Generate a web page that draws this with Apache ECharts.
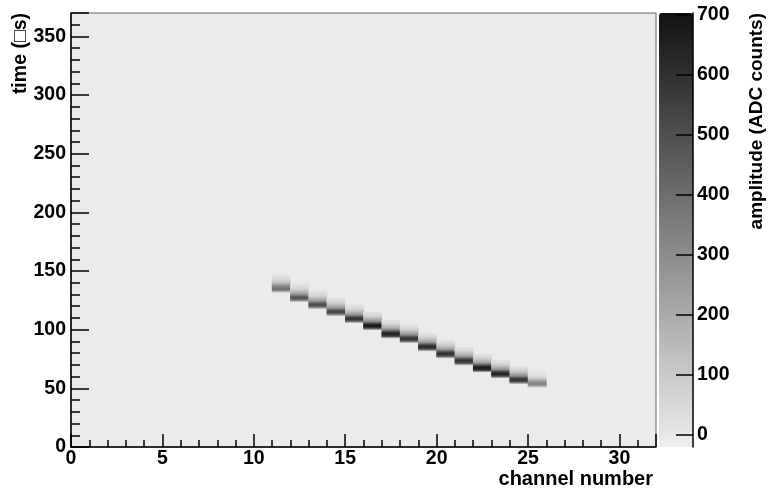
<!DOCTYPE html>
<html>
<head>
<meta charset="utf-8">
<script src="https://cdn.jsdelivr.net/npm/echarts@6/dist/echarts.min.js"></script>
<style>
html,body{margin:0;padding:0;background:#fff;}
#chart{width:769px;height:492px;}
</style>
</head>
<body>
<div id="chart"></div>
<script>
// ---- data ----
const channelCount = 32;          // channel bins 0..31
const timeBins = 370;             // time bins (1 µs each), 0..369
const xTickLabels = [0, 5, 10, 15, 20, 25, 30];
const yTickLabels = [0, 50, 100, 150, 200, 250, 300, 350];
const zTickLabels = [0, 100, 200, 300, 400, 500, 600, 700];
const zMin = -20, zMax = 703;

// track: channel, first time bin of pulse, amplitudes going up in time
const trackChannels = [11, 12, 13, 14, 15, 16, 17, 18, 19, 20, 21, 22, 23, 24, 25];
const trackStart    = [132, 124, 118, 112, 106, 100, 93, 89, 82, 76, 70, 64, 59, 54, 51];
const trackAmps = [
  [140, 300, 380, 400, 368, 312, 240, 180, 136, 100, 72, 52, 36, 24, 16],
  [168, 360, 456, 480, 442, 374, 288, 216, 163, 120, 86, 62, 43, 29, 19],
  [179, 383, 485, 510, 469, 398, 306, 230, 173, 128, 92, 66, 46, 31, 20],
  [186, 398, 504, 530, 488, 413, 318, 239, 180, 133, 95, 69, 48, 32, 21],
  [207, 443, 561, 590, 543, 460, 354, 266, 201, 148, 106, 77, 53, 35, 24],
  [242, 518, 656, 690, 635, 538, 414, 311, 235, 173, 124, 90, 62, 41, 28],
  [235, 503, 637, 670, 616, 523, 402, 302, 228, 168, 121, 87, 60, 40, 27],
  [210, 450, 570, 600, 552, 468, 360, 270, 204, 150, 108, 78, 54, 36, 24],
  [221, 473, 599, 630, 580, 491, 378, 284, 214, 158, 113, 82, 57, 38, 25],
  [214, 458, 580, 610, 561, 476, 366, 275, 207, 153, 110, 79, 55, 37, 24],
  [210, 450, 570, 600, 552, 468, 360, 270, 204, 150, 108, 78, 54, 36, 24],
  [245, 525, 665, 700, 644, 546, 420, 315, 238, 175, 126, 91, 63, 42, 28],
  [228, 488, 618, 650, 598, 507, 390, 293, 221, 163, 117, 85, 59, 39, 26],
  [207, 443, 561, 590, 543, 460, 354, 266, 201, 148, 106, 77, 53, 35, 24],
  [119, 255, 323, 340, 300, 240, 170, 115, 75, 48, 30, 18, 11, 7, 4]
];

// ---- build ----
const xCats = [];
for (let i = 0; i < channelCount; i++) xCats.push(String(i));
const yCats = [];
for (let i = 0; i < timeBins; i++) yCats.push(String(i));

const cells = [];
trackChannels.forEach((ch, k) => {
  trackAmps[k].forEach((v, j) => {
    cells.push([ch, trackStart[k] + j, v]);
  });
});

const FONT = 'Liberation Sans';
const FS = 19.5;
const axisCommon = {
  axisLine: {show: true, onZero: false, lineStyle: {color: '#000', width: 1.5}},
  splitLine: {show: false},
};

const chart = echarts.init(document.getElementById('chart'), null, {renderer: 'canvas'});
chart.setOption({
  animation: false,
  backgroundColor: '#ffffff',
  grid: [
    {left: 71, right: 113, top: 13, bottom: 45, show: true, backgroundColor: '#ebebeb', borderColor: '#666', borderWidth: 1},
    {left: 659, right: 76, top: 13, bottom: 45, show: false}
  ],
  xAxis: [
    {type: 'category', gridIndex: 0, data: xCats, show: false},
    Object.assign({
      type: 'value', gridIndex: 0, position: 'bottom', min: 0, max: channelCount, interval: 5,
      axisTick: {show: true, inside: true, length: 13, lineStyle: {color: '#000', width: 1.5}},
      minorTick: {show: true, splitNumber: 5, length: 7, lineStyle: {color: '#000', width: 1.5}},
      axisLabel: {color: '#000', fontSize: FS, fontWeight: 'bold', fontFamily: FONT, margin: 2,
        customValues: xTickLabels}
    }, axisCommon),
    {type: 'value', gridIndex: 1, min: 0, max: 1, show: false}
  ],
  yAxis: [
    {type: 'category', gridIndex: 0, data: yCats, show: false},
    Object.assign({
      type: 'value', gridIndex: 0, position: 'left', min: 0, max: timeBins, interval: 50,
      axisTick: {show: true, inside: true, length: 18, lineStyle: {color: '#000', width: 1.5}},
      minorTick: {show: true, splitNumber: 5, length: 9, lineStyle: {color: '#000', width: 1.5}},
      axisLabel: {color: '#000', fontSize: FS, fontWeight: 'bold', fontFamily: FONT, margin: 5,
        customValues: yTickLabels}
    }, axisCommon),
    Object.assign({
      type: 'value', gridIndex: 1, position: 'right', min: zMin, max: zMax, z: 10,
      axisTick: {show: true, inside: true, length: 17, lineStyle: {color: '#000', width: 1.5}, customValues: zTickLabels},
      axisLabel: {color: '#000', fontSize: FS, fontWeight: 'bold', fontFamily: FONT, margin: 4, customValues: zTickLabels}
    }, axisCommon)
  ],
  visualMap: {
    type: 'continuous', min: zMin, max: zMax, seriesIndex: 0,
    inRange: {color: ['#eeeeee', '#111111']},
    calculable: false, show: true, padding: 0, z: 1,
    left: 659, top: 13, itemWidth: 34, itemHeight: 434,
    text: null, hoverLink: false
  },
  graphic: [
    {type: 'text', x: 21, y: 13, rotation: Math.PI / 2,
      style: {text: 'time (\u25A1s)', font: 'bold ' + FS + 'px ' + FONT, fill: '#000', textAlign: 'right', textVerticalAlign: 'middle'}},
    {type: 'text', x: 653, y: 489,
      style: {text: 'channel number', font: 'bold 20px ' + FONT, fill: '#000', textAlign: 'right', textVerticalAlign: 'bottom'}},
    {type: 'text', x: 757, y: 13, rotation: Math.PI / 2,
      style: {text: 'amplitude (ADC counts)', font: 'bold 19px ' + FONT, fill: '#000', textAlign: 'right', textVerticalAlign: 'middle'}}
  ],
  series: [{
    type: 'heatmap', xAxisIndex: 0, yAxisIndex: 0, data: cells,
    emphasis: {disabled: true}, progressive: 0
  }]
});
</script>
</body>
</html>
